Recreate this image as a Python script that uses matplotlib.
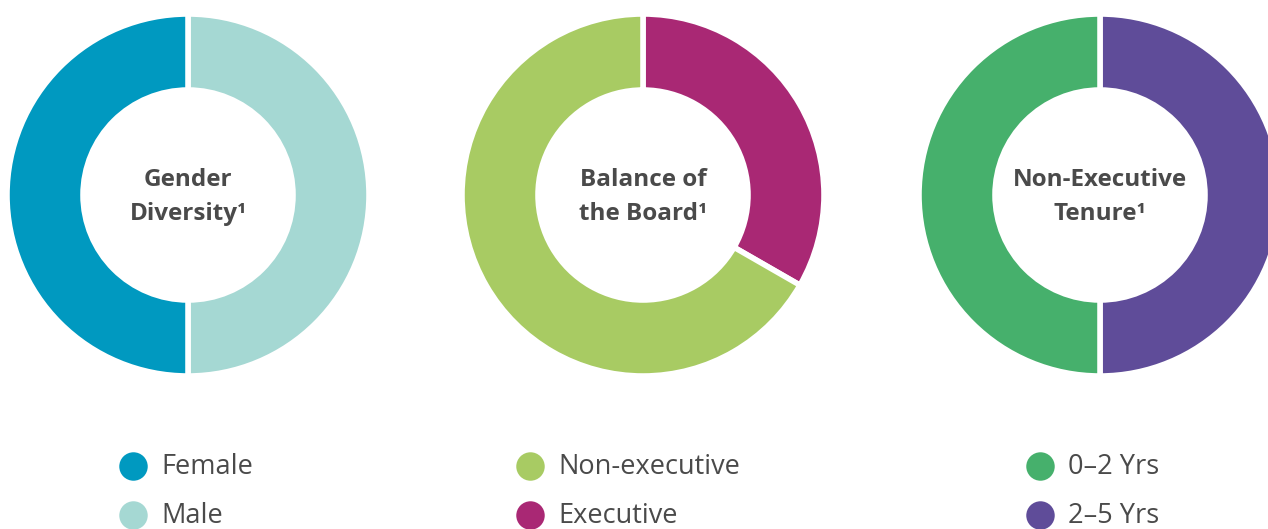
import matplotlib.pyplot as plt

# data
titles = ["Gender\nDiversity\u00b9", "Balance of\nthe Board\u00b9", "Non-Executive\nTenure\u00b9"]
labels = [["Female", "Male"], ["Non-executive", "Executive"], ["0\u20132 Yrs", "2\u20135 Yrs"]]
values = [[50, 50], [66.7, 33.3], [50, 50]]
# slice order on the ring (clockwise from 12 o'clock)
ring_order = [[1, 0], [1, 0], [1, 0]]
colors = [["#0099c0", "#a5d8d3"], ["#a8cb63", "#a92874"], ["#46b06c", "#5f4c99"]]

W, H = 1268, 529
centers_x = [188, 643, 1100]
center_y = 195
outer_r = 181
ring_w = 76
legend_x = [133, 530, 1040]
legend_y = [466, 515]

fig = plt.figure(figsize=(W / 100, H / 100), dpi=100)
ax = fig.add_axes([0, 0, 1, 1])

for i in range(3):
    order = ring_order[i]
    # pie draws clockwise from the top; first wedge goes from 12 o'clock round to the right
    ax.pie([values[i][k] for k in order], colors=[colors[i][k] for k in order],
           center=(centers_x[i], H - center_y), radius=outer_r,
           startangle=90, counterclock=False,
           wedgeprops=dict(width=ring_w, edgecolor="white", linewidth=4))
    ax.text(centers_x[i], H - center_y - 2, titles[i], ha="center", va="center",
            fontsize=17.5, fontweight="bold", family=["Open Sans", "DejaVu Sans"],
            color="#4a4a4a", linespacing=1.52)
    for j in range(2):
        ax.scatter(legend_x[i], H - legend_y[j], s=420, color=colors[i][j], linewidths=0)
        ax.text(legend_x[i] + 28, H - legend_y[j] - 1, labels[i][j], ha="left", va="center",
                fontsize=19.5, family=["Open Sans", "DejaVu Sans"], color="#4a4a4a")

ax.set_xlim(0, W)
ax.set_ylim(0, H)
ax.set_aspect("auto")
ax.axis("off")
fig.savefig("out.png", dpi=100, facecolor="white")
